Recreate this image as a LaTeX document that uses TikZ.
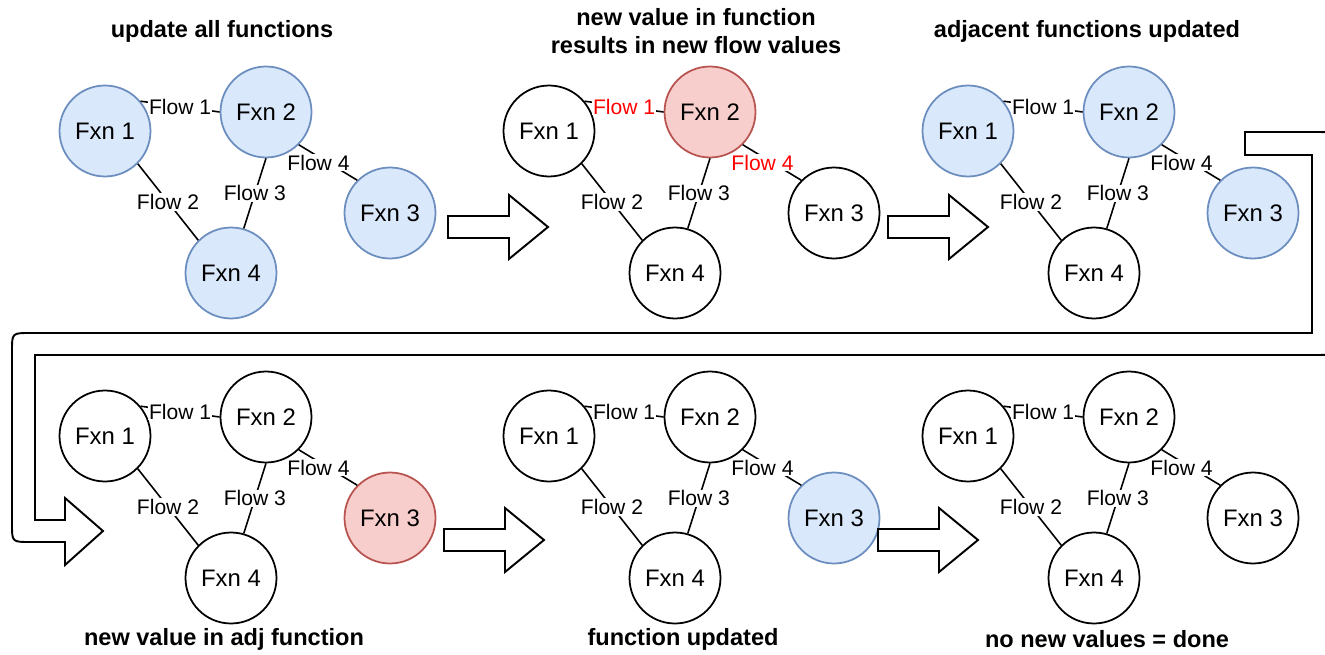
\documentclass[tikz,border=0pt]{standalone}
\usepackage{fontspec}
\setmainfont{Liberation Sans}
\definecolor{updblue}{HTML}{DAE8FC}
\definecolor{updborder}{HTML}{6C8EBF}
\definecolor{hotred}{HTML}{F8CECC}
\definecolor{hotborder}{HTML}{B85450}
\tikzset{
fxn/.style={circle, draw=black, fill=white, line width=1pt, minimum size=1.82cm,
  inner sep=0pt, font=\fontsize{13.6}{16}\selectfont},
upd/.style={fill=updblue, draw=updborder},
hot/.style={fill=hotred, draw=hotborder},
flow/.style={fill=white, inner sep=0.5pt, pos=0.5, font=\fontsize{12}{14}\selectfont},
hotflow/.style={text=red},
link/.style={line width=0.9pt},
title/.style={align=center, font=\bfseries\fontsize{13.4}{16.4}\selectfont},
arrowline/.style={draw=black, fill=white, line width=1.1pt},
fxn1/.style={}, fxn2/.style={}, fxn3/.style={}, fxn4/.style={},
flow1/.style={}, flow2/.style={}, flow3/.style={}, flow4/.style={},
fxngraph/.pic={
  \node[fxn, fxn1] (-fxn1) at (105,131) {Fxn 1};
  \node[fxn, fxn2] (-fxn2) at (266,112) {Fxn 2};
  \node[fxn, fxn3] (-fxn3) at (390,213) {Fxn 3};
  \node[fxn, fxn4] (-fxn4) at (231,273) {Fxn 4};
  \draw[link] (-fxn1.40) -- node[flow, flow1] {Flow 1} (-fxn2.west);
  \draw[link] (-fxn1.-45) -- node[flow, flow2] {Flow 2} (-fxn4.135);
  \draw[link] (-fxn2.south) -- node[flow, flow3] {Flow 3} (-fxn4.74);
  \draw[link] (-fxn2.-45) -- node[flow, flow4, xshift=-0.19cm] {Flow 4} (-fxn3.135);
  },
blockarrow/.pic={
  \draw[arrowline] (0,-11) -- (61,-11) -- (61,-32) -- (100,0) -- (61,32) -- (61,11) -- (0,11) -- cycle;
  }
}

\begin{document}
\begin{tikzpicture}[x=0.02cm, y=-0.02cm]
\useasboundingbox (0,0) rectangle (1325,655);

% top row
\pic (p1) at (0,0) [fxn1/.style=upd, fxn2/.style=upd, fxn3/.style=upd, fxn4/.style=upd] {fxngraph};
\pic (p2) at (444,0) [fxn2/.style=hot, flow1/.style=hotflow, flow4/.style=hotflow] {fxngraph};
\pic (p3) at (863,0) [fxn1/.style=upd, fxn2/.style=upd, fxn3/.style=upd] {fxngraph};

% bottom row
\pic (p4) at (0,305) [fxn3/.style=hot] {fxngraph};
\pic (p5) at (444,305) [fxn3/.style=upd] {fxngraph};
\pic (p6) at (863,305) {fxngraph};

\pic at (448,227) {blockarrow};
\pic at (888,227) {blockarrow};
\pic at (444,540) {blockarrow};
\pic at (878,540) {blockarrow};

% bent arrow from top row to bottom row
\draw[arrowline]
  (1245,132) -- (1315,132) .. controls (1335,132) .. (1335,152)
  -- (1335,335) .. controls (1335,355) .. (1315,355)
  -- (35,355) -- (35,520) -- (65,520) -- (65,498) -- (103,531) -- (65,565) -- (65,542)
  -- (30,542) .. controls (12,542) .. (12,524)
  -- (12,351) .. controls (12,333) .. (30,333)
  -- (1312,333) -- (1312,155) -- (1245,155) -- cycle;

\node[title] (t1) at (222,31) {update all functions};
\node[title] (t2) at (696,31) {new value in function\\results in new flow values};
\node[title] (t3) at (1087,31) {adjacent functions updated};
\node[title] (t4) at (224,639) {new value in adj function};
\node[title] (t5) at (683,639) {function updated};
\node[title] (t6) at (1107,639) {no new values = done};
\end{tikzpicture}
\end{document}
